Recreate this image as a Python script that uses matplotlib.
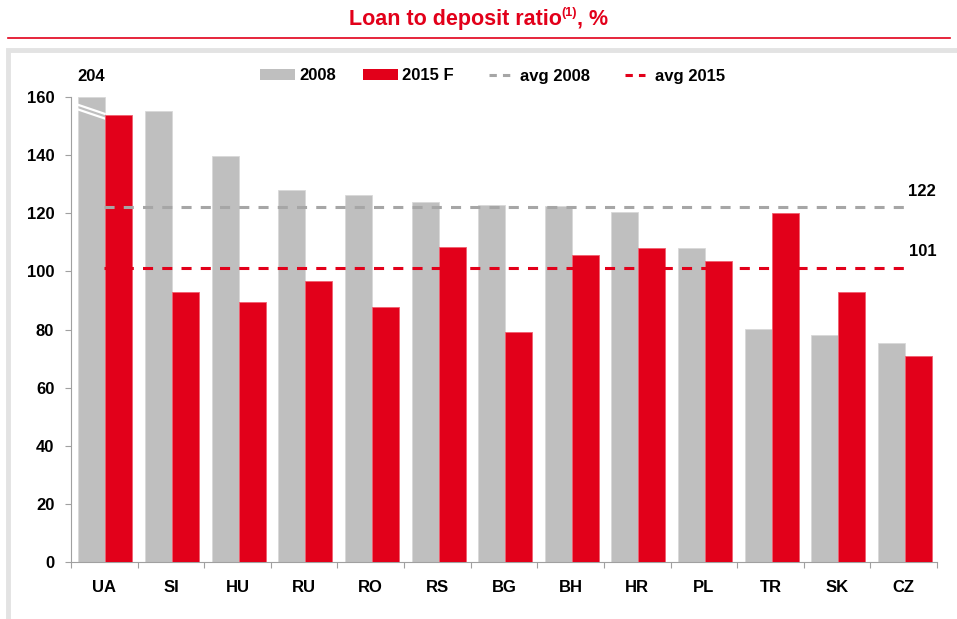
import matplotlib
matplotlib.use('Agg')
import matplotlib.pyplot as plt
from matplotlib.patches import Rectangle, Patch
from matplotlib.lines import Line2D
from matplotlib.legend_handler import HandlerLine2D
import numpy as np

# data
countries = ['UA', 'SI', 'HU', 'RU', 'RO', 'RS', 'BG', 'BH', 'HR', 'PL', 'TR', 'SK', 'CZ']
ratio_2008 = [204, 155.1, 139.8, 127.9, 126.2, 124.0, 123.0, 122.5, 120.3, 107.9, 80.3, 78.2, 75.4]
ratio_2015 = [153.7, 92.8, 89.3, 96.8, 87.9, 108.5, 79.2, 105.6, 107.9, 103.7, 120.1, 92.8, 71.0]
avg_2008 = 122
avg_2015 = 101
y_max = 160
y_ticks = [0, 20, 40, 60, 80, 100, 120, 140, 160]

GRAY = '#BFBFBF'
RED = '#E2001A'
AVG_GRAY = '#A6A6A6'

plt.rcParams['font.family'] = ['Liberation Sans', 'DejaVu Sans']
plt.rcParams['font.weight'] = 'bold'


class ShortDash(HandlerLine2D):
    # legend dashes sit in the middle of the handle, like the original
    def get_xdata(self, legend, xdescent, ydescent, width, height, fontsize):
        xd = np.array([-xdescent + 0.25 * width, -xdescent + 0.83 * width])
        return xd, xd


fig = plt.figure(figsize=(9.57, 6.19), dpi=100)
W, H = 957, 619

# panel frame and title underline
fig.patches.append(Rectangle((8 / W, -0.05), 1.0, (619 - 50) / H + 0.05, transform=fig.transFigure,
                             fill=False, edgecolor='#E3E3E3', linewidth=3.5))
fig.lines.append(Line2D([8 / W, 950 / W], [1 - 38 / H, 1 - 38 / H], transform=fig.transFigure,
                        color=RED, linewidth=1.2))

# title with a small superscript
renderer = fig.canvas.get_renderer()
parts = [('Loan to deposit ratio', 15.5, 0), ('(1)', 9, 6), (', %', 15.5, 0)]
texts = []
for s, size, rise in parts:
    t = fig.text(0, 1 - 19 / H + rise / H, s, ha='left', va='center', color=RED, fontsize=size,
                 fontweight='bold')
    texts.append(t)
widths = [t.get_window_extent(renderer).width for t in texts]
xpos = (W - sum(widths)) / 2
for t, wd in zip(texts, widths):
    t.set_x(xpos / W)
    xpos += wd

ax = fig.add_axes([71 / W, 1 - 562 / H, (937 - 71) / W, (562 - 97) / H])
x = np.arange(len(countries))
w = 0.405
shown_2008 = [min(v, y_max) for v in ratio_2008]
ax.bar(x - 0.185, shown_2008, width=w, color=GRAY, edgecolor='#D9D9D9', linewidth=0.6, zorder=2)
ax.bar(x + 0.22, ratio_2015, width=w, color=RED, edgecolor='#F06070', linewidth=0.6, zorder=3)

dash = (0, (3.3, 3.0))
ax.hlines(avg_2008, 0, len(countries) - 1, colors=AVG_GRAY, linewidth=2.2, linestyles=dash, zorder=4)
ax.hlines(avg_2015, 0, len(countries) - 1, colors=RED, linewidth=2.2, linestyles=dash, zorder=4)
ax.text(12.28, avg_2008 + 5.5, str(avg_2008), ha='center', va='center', fontsize=12, fontweight='bold')
ax.text(12.28, avg_2015 + 6, str(avg_2015), ha='center', va='center', fontsize=12, fontweight='bold')

# broken bar marker for UA 2008
ax.text(-0.2, 167, str(ratio_2008[0]), ha='center', va='center', fontsize=12, fontweight='bold')
for off in [0, -1.6]:
    ax.plot([-0.56, 0.02], [158.6 + off, 154.1 + off], color='white', linewidth=1.6, zorder=2.5,
            clip_on=False, solid_capstyle='butt')

ax.set_xlim(-0.5, len(countries) - 0.5)
ax.set_ylim(0, y_max)
ax.set_yticks(y_ticks)
ax.set_xticks(x)
ax.set_xticklabels(countries)
ax.set_xticks(np.arange(-0.5, len(countries)), minor=True)
ax.tick_params(axis='x', which='major', length=0, pad=13, labelsize=12)
ax.tick_params(axis='x', which='minor', length=4, color='#A0A0A0', width=0.8)
ax.tick_params(axis='y', length=4, color='#A0A0A0', width=0.8, pad=8, labelsize=12)
for s in ['top', 'right']:
    ax.spines[s].set_visible(False)
for s in ['left', 'bottom']:
    ax.spines[s].set_color('#A0A0A0')
    ax.spines[s].set_linewidth(0.8)

handles = [Patch(facecolor=GRAY), Patch(facecolor=RED),
           Line2D([], [], color=AVG_GRAY, linewidth=2.2, linestyle=(0, (2.4, 2.0))),
           Line2D([], [], color=RED, linewidth=2.2, linestyle=(0, (2.4, 2.0)))]
labels = ['2008', '2015 F', 'avg 2008', 'avg 2015']
fig.legend(handles, labels, loc='center', bbox_to_anchor=(493 / W, 1 - 76 / H), ncol=4, frameon=False,
           fontsize=12, handlelength=2.1, handletextpad=0.25, columnspacing=1.6, handleheight=0.6,
           handler_map={Line2D: ShortDash()})

fig.savefig('out.png', dpi=100)
